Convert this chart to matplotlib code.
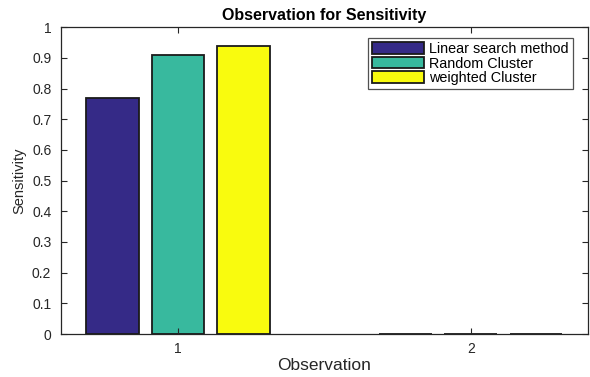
import matplotlib
matplotlib.use("Agg")
import matplotlib.pyplot as plt
import numpy as np

plt.rcParams['font.family'] = ['Liberation Sans', 'DejaVu Sans']

observations = [1, 2]
series_names = ["Linear search method", "Random Cluster", "weighted Cluster"]
linear_search = [0.77, 0.0]
random_cluster = [0.91, 0.0]
weighted_cluster = [0.94, 0.0]
colors = ["#352a87", "#38b99e", "#f9fb0e"]

fig = plt.figure(figsize=(5.9, 3.77), dpi=100)
ax = fig.add_axes([0.1034, 0.114, 0.893, 0.814])

x = np.array(observations, dtype=float)
width = 0.18
offsets = [-0.223, 0.0, 0.223]
for vals, name, col, off in zip([linear_search, random_cluster, weighted_cluster],
                                series_names, colors, offsets):
    ax.bar(x + off, vals, width=width, color=col, edgecolor="#1a1a1a",
           linewidth=1.3, label=name)

ax.set_xlim(0.6, 2.4)
ax.set_ylim(0, 1)
ax.set_xticks(observations)
ax.set_yticks(np.round(np.arange(0, 1.01, 0.1), 1))
ax.set_yticklabels(["0", "0.1", "0.2", "0.3", "0.4", "0.5", "0.6", "0.7", "0.8", "0.9", "1"])
ax.tick_params(direction="in", top=True, right=True, length=4, labelsize=10,
               colors="#262626", width=0.8)
ax.tick_params(axis="x", pad=6)
ax.tick_params(axis="y", pad=7)
for s in ax.spines.values():
    s.set_color("#262626")
    s.set_linewidth(0.9)

ax.set_title("Observation for Sensitivity", fontsize=11.5, fontweight="bold", pad=5)
ax.set_xlabel("Observation", fontsize=12.5, color="#262626", labelpad=1)
ax.set_ylabel("Sensitivity", fontsize=10.5, color="#262626", labelpad=4)

leg = ax.legend(loc="upper right", bbox_to_anchor=(0.972, 0.965), fontsize=10.4,
                frameon=True, fancybox=False, handlelength=3.6, handleheight=0.85,
                handletextpad=0.35, borderpad=0.3, labelspacing=0.03,
                borderaxespad=0.0)
leg.get_frame().set_edgecolor("#262626")
leg.get_frame().set_linewidth(0.9)

fig.savefig("out.png", dpi=100)
